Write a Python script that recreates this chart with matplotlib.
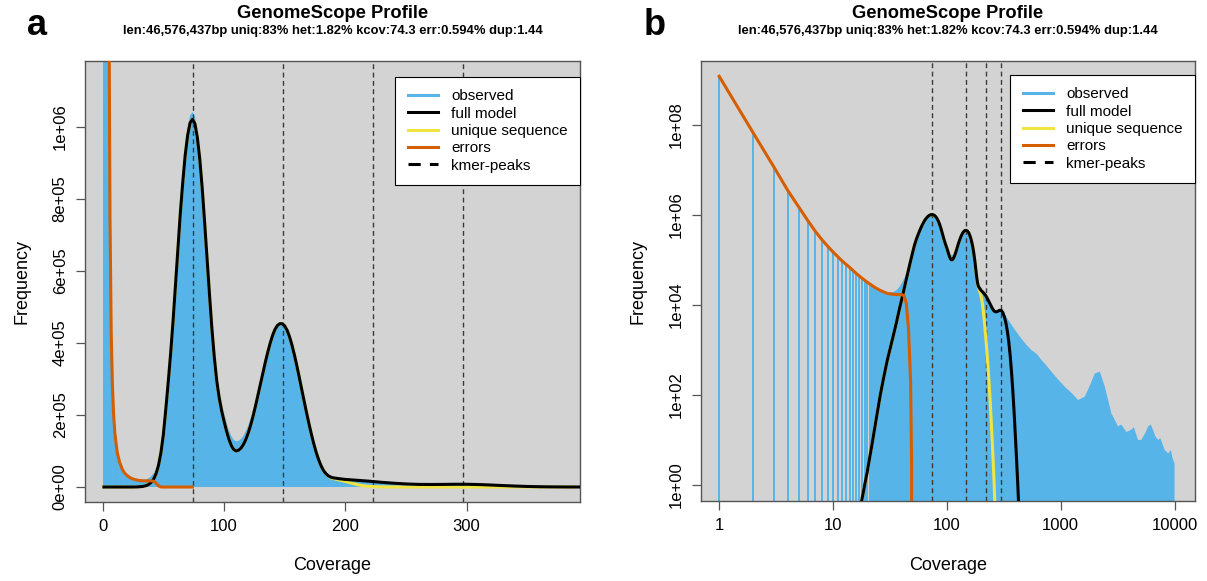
import matplotlib
matplotlib.use("Agg")
import matplotlib.pyplot as plt
from matplotlib.lines import Line2D

plt.rcParams['font.family'] = ['Liberation Sans', 'DejaVu Sans']

# ---------------- text ----------------
panel_labels = ["a", "b"]
title = "GenomeScope Profile"
subtitle = "len:46,576,437bp uniq:83% het:1.82% kcov:74.3 err:0.594% dup:1.44"
legend_labels = ["observed", "full model", "unique sequence", "errors", "kmer-peaks"]
x_label = "Coverage"
y_label = "Frequency"

# ---------------- data ----------------
kmer_peaks = [74.3, 148.6, 222.9, 297.2]

# observed k-mer histogram, low coverages (one bar per coverage value)
obs_low_x = [1, 2, 3, 4, 5, 6, 7, 8, 9, 10, 11, 12, 13, 14, 15, 16, 17, 18, 19, 20,
             21, 22, 23, 24, 25, 26]
obs_low_y = [1.2e9, 6.5e7, 1.2e7, 3.5e6, 1.5e6, 7.5e5, 4.3e5, 2.8e5, 2.0e5, 1.5e5,
             1.2e5, 9.6e4, 8.0e4, 6.8e4, 5.8e4, 5.0e4, 4.4e4, 3.9e4, 3.5e4, 3.2e4,
             2.9e4, 2.7e4, 2.5e4, 2.35e4, 2.2e4, 2.1e4]

# observed k-mer histogram, higher coverages (bars merge into a filled area)
obs_x = [26, 28, 30, 32, 34, 36, 38, 40, 42, 44, 46, 48, 50, 52, 54, 56, 58, 60, 62, 64,
         66, 68, 70, 72, 74, 76, 78, 80, 82, 84, 86, 88, 90, 92, 94, 96, 98, 100, 102,
         104, 106, 108, 110, 112, 114, 116, 118, 120, 122, 124, 126, 128, 130, 132, 134,
         136, 138, 140, 142, 144, 146, 148, 150, 152, 154, 156, 158, 160, 162, 164, 166,
         168, 170, 172, 174, 176, 178, 180, 182, 184, 186, 188, 190, 195, 200, 210, 220,
         230, 240, 250, 260, 275, 290, 301, 350, 400, 450, 500, 552, 620, 677, 750, 828,
         950, 1087, 1250, 1423, 1629, 1800, 1995, 2208, 2443, 2788, 3192, 3400, 3800,
         4178, 4400, 4786, 5100, 5600, 5861, 6200, 6800, 7178, 7500, 8200, 8790, 9300,
         9600, 10000]
obs_y = [2.1e4, 1.95e4, 1.9e4, 1.9e4, 1.95e4, 2.1e4, 2.45e4, 3.0e4, 3.8e4, 4.9e4, 6.5e4,
         9.7e4, 1.47e5, 2.08e5, 2.85e5, 3.7e5, 4.65e5, 5.68e5, 6.7e5, 7.72e5, 8.6e5,
         9.37e5, 9.93e5, 1.03e6, 1.04e6, 1.028e6, 9.9e5, 9.28e5, 8.47e5, 7.52e5, 6.52e5,
         5.52e5, 4.58e5, 3.8e5, 3.17e5, 2.7e5, 2.35e5, 2.06e5, 1.8e5, 1.58e5, 1.42e5,
         1.31e5, 1.27e5, 1.28e5, 1.33e5, 1.42e5, 1.55e5, 1.71e5, 1.9e5, 2.13e5, 2.38e5,
         2.65e5, 2.93e5, 3.22e5, 3.5e5, 3.77e5, 4.02e5, 4.23e5, 4.4e5, 4.51e5, 4.56e5,
         4.56e5, 4.5e5, 4.37e5, 4.18e5, 3.94e5, 3.66e5, 3.35e5, 3.02e5, 2.69e5, 2.36e5,
         2.03e5, 1.72e5, 1.43e5, 1.16e5, 9.3e4, 7.3e4, 5.7e4, 4.4e4, 3.5e4, 2.95e4,
         2.6e4, 2.4e4, 2.1e4, 1.9e4, 1.7e4, 1.5e4, 1.25e4, 1.05e4, 8.8e3, 7.6e3, 7.2e3,
         7.6e3, 7.7e3, 4.5e3, 2.7e3, 1.8e3, 1.3e3, 1.0e3, 800, 600, 450, 330, 220, 152,
         110, 77, 92, 160, 300, 330, 152, 39, 20, 22, 15, 17, 19, 10, 10, 15, 20, 22,
         12, 10, 11, 6, 5, 6, 4, 3]

# full model
model_x = [1, 14, 16, 18, 20, 22, 24, 26, 28, 30, 33, 36, 38, 40, 42, 44, 46, 48, 50, 52,
           54, 56, 58, 60, 62, 64, 66, 68, 70, 72, 74, 76, 78, 80, 82, 84, 86, 88, 90, 92,
           94, 96, 98, 100, 102, 104, 106, 108, 110, 112, 114, 116, 118, 120, 122, 124,
           126, 128, 130, 132, 134, 136, 138, 140, 142, 144, 146, 148, 150, 152, 154, 156,
           158, 160, 162, 164, 166, 168, 170, 172, 174, 176, 178, 180, 182, 184, 186, 188,
           190, 195, 200, 210, 220, 230, 240, 250, 260, 270, 280, 290, 300, 310, 320, 330,
           340, 350, 360, 370, 380, 390, 400, 410, 420, 430, 440]
model_y = [0, 0, 0.08, 0.5, 2, 8, 30, 100, 260, 600, 1600, 4000, 7500, 1.3e4, 2.2e4, 3.7e4,
           6.0e4, 9.5e4, 1.45e5, 2.15e5, 2.9e5, 3.7e5, 4.6e5, 5.6e5, 6.6e5, 7.6e5, 8.45e5,
           9.2e5, 9.75e5, 1.01e6, 1.02e6, 1.008e6, 9.7e5, 9.1e5, 8.3e5, 7.35e5, 6.35e5,
           5.35e5, 4.4e5, 3.6e5, 2.95e5, 2.48e5, 2.12e5, 1.83e5, 1.56e5, 1.33e5, 1.15e5,
           1.04e5, 1.0e5, 1.02e5, 1.08e5, 1.18e5, 1.32e5, 1.5e5, 1.72e5, 1.97e5, 2.25e5,
           2.55e5, 2.85e5, 3.15e5, 3.45e5, 3.73e5, 3.98e5, 4.2e5, 4.37e5, 4.48e5, 4.53e5,
           4.53e5, 4.47e5, 4.35e5, 4.17e5, 3.94e5, 3.67e5, 3.37e5, 3.05e5, 2.72e5, 2.39e5,
           2.07e5, 1.76e5, 1.47e5, 1.2e5, 9.6e4, 7.6e4, 5.9e4, 4.6e4, 3.7e4, 3.1e4, 2.75e4,
           2.55e4, 2.3e4, 2.1e4, 1.85e4, 1.6e4, 1.3e4, 1.05e4, 8.5e3, 7.3e3, 7.0e3, 7.2e3,
           7.6e3, 7.6e3, 6.8e3, 5.5e3, 4.0e3, 2.6e3, 1.5e3, 750, 320, 120, 40, 12, 3.5,
           1.0, 0.25, 0.05]

# unique sequence (identical to the full model up to ~185x)
unique_x = model_x[:model_x.index(186)] + [186, 188, 190, 195, 200, 205, 210, 215, 220,
                                           225, 230, 235, 240, 245, 250, 255, 260, 265,
                                           270, 390]
unique_y = model_y[:model_x.index(186)] + [3.0e4, 2.6e4, 2.35e4, 1.95e4, 1.55e4, 1.1e4,
                                           6.5e3, 3.5e3, 1.8e3, 900, 420, 180, 75, 28, 10,
                                           3.5, 1.1, 0.3, 0, 0]

# errors
err_x = [1, 2, 3, 4, 5, 6, 7, 8, 9, 10, 12, 14, 16, 18, 20, 23, 26, 30, 35, 40, 42, 44,
         46, 48, 49, 50, 60, 74]
err_y = [1.2e9, 6.5e7, 1.2e7, 3.5e6, 1.5e6, 7.5e5, 4.3e5, 2.8e5, 2.0e5, 1.5e5, 9.5e4,
         6.8e4, 5.0e4, 3.9e4, 3.2e4, 2.5e4, 2.1e4, 1.8e4, 1.7e4, 1.7e4, 1.6e4, 1.1e4,
         3.0e3, 200, 3, 0, 0, 0]

lin_yticks = [0, 2e5, 4e5, 6e5, 8e5, 1e6]
lin_ytick_labels = ["0e+00", "2e+05", "4e+05", "6e+05", "8e+05", "1e+06"]
lin_xticks = [0, 100, 200, 300]
log_yticks = [1, 1e2, 1e4, 1e6, 1e8]
log_ytick_labels = ["1e+00", "1e+02", "1e+04", "1e+06", "1e+08"]
log_xticks = [1, 10, 100, 1000, 10000]
log_xtick_labels = ["1", "10", "100", "1000", "10000"]

# ---------------- style ----------------
C_BG = "#D3D3D3"
C_OBS = "#56B4E9"
C_MODEL = "black"
C_UNIQUE = "#F0E442"
C_ERR = "#D55E00"
C_PEAK = "#3a3a3a"
C_AXIS = "#555555"

W, H = 1207, 581
fig = plt.figure(figsize=(W / 100, H / 100), dpi=100)


def rect(l, r, t, b):
    return [l / W, 1 - b / H, (r - l) / W, (b - t) / H]


axL = fig.add_axes(rect(85, 580, 61, 502))
axR = fig.add_axes(rect(701, 1195, 61, 501))

for ax, logscale in ((axL, False), (axR, True)):
    ax.set_facecolor(C_BG)
    if logscale:
        ax.set_xscale("log")
        ax.set_yscale("log")
    # observed histogram
    ax.vlines(obs_low_x, 0, obs_low_y, color=C_OBS, lw=1.4, zorder=1)
    ax.fill_between(obs_x, obs_y, 0, color=C_OBS, lw=0, zorder=1)
    # kmer peaks
    for k in kmer_peaks:
        ax.axvline(k, color=C_PEAK, lw=1.0, ls=(0, (3.5, 2.5)), zorder=2)
    ax.plot(unique_x, unique_y, color=C_UNIQUE, lw=2.2, zorder=3)
    ax.plot(model_x, model_y, color=C_MODEL, lw=2.2, zorder=4)
    ax.plot(err_x, err_y, color=C_ERR, lw=2.2, zorder=5)

    for s in ax.spines.values():
        s.set_color(C_AXIS)
        s.set_linewidth(1.0)
    ax.tick_params(direction="out", length=6.5, width=0.9, color=C_AXIS,
                   labelsize=12, pad=6, which="major")
    ax.tick_params(which="minor", length=0)
    ax.set_xlabel(x_label, fontsize=13)
    ax.set_ylabel(y_label, fontsize=13)
    ax.xaxis.label.set_va("center")
    ax.yaxis.label.set_va("center")

    handles = [Line2D([], [], color=C_OBS, lw=2.2),
               Line2D([], [], color=C_MODEL, lw=2.2),
               Line2D([], [], color=C_UNIQUE, lw=2.2),
               Line2D([], [], color=C_ERR, lw=2.2),
               Line2D([], [], color="black", lw=2.2, ls=(0, (4, 3)))]
    top_px = 77 if not logscale else 75
    leg = ax.legend(handles, legend_labels, loc="upper right",
                    bbox_to_anchor=(1.0, (502 - top_px) / 441), borderaxespad=0,
                    fontsize=11, frameon=True, fancybox=False, edgecolor="black",
                    framealpha=1, handlelength=2.0, handletextpad=0.85,
                    borderpad=0.8, labelspacing=0.22)
    leg.get_frame().set_linewidth(0.8)

# linear panel axes
axL.set_xlim(-14.6, 393.5)
axL.set_ylim(-0.0416e6, 1.1817e6)
axL.set_xticks(lin_xticks)
axL.set_yticks(lin_yticks, lin_ytick_labels)
axL.xaxis.set_label_coords(0.5, (502 - 565) / 441)
axL.yaxis.set_label_coords((22 - 85) / 495, 0.5)

# log panel axes
axR.set_xlim(10 ** -0.16, 10 ** 4.18)
axR.set_ylim(10 ** -0.356, 10 ** 9.42)
axR.set_xticks(log_xticks, log_xtick_labels)
axR.set_yticks(log_yticks, log_ytick_labels)
axR.xaxis.set_label_coords(0.5, (501 - 565) / 440)
axR.yaxis.set_label_coords((638 - 701) / 494, 0.5)

for ax in (axL, axR):
    for lab in ax.get_yticklabels():
        lab.set_rotation(90)
        lab.set_va("center")
        lab.set_ha("right")

# titles and panel letters
for ax, letter, lx in ((axL, panel_labels[0], 37), (axR, panel_labels[1], 655)):
    bb = ax.get_position()
    cx = (bb.x0 + bb.x1) / 2
    fig.text(cx, 1 - 14 / H, title, ha="center", va="center", fontsize=13.2,
             fontweight="bold")
    fig.text(cx, 1 - 31 / H, subtitle, ha="center", va="center", fontsize=9.4,
             fontweight="bold")
    fig.text(lx / W, 1 - 35 / H, letter, ha="center", va="baseline", fontsize=26,
             fontweight="bold")

fig.savefig("out.png", dpi=100, facecolor="white")
